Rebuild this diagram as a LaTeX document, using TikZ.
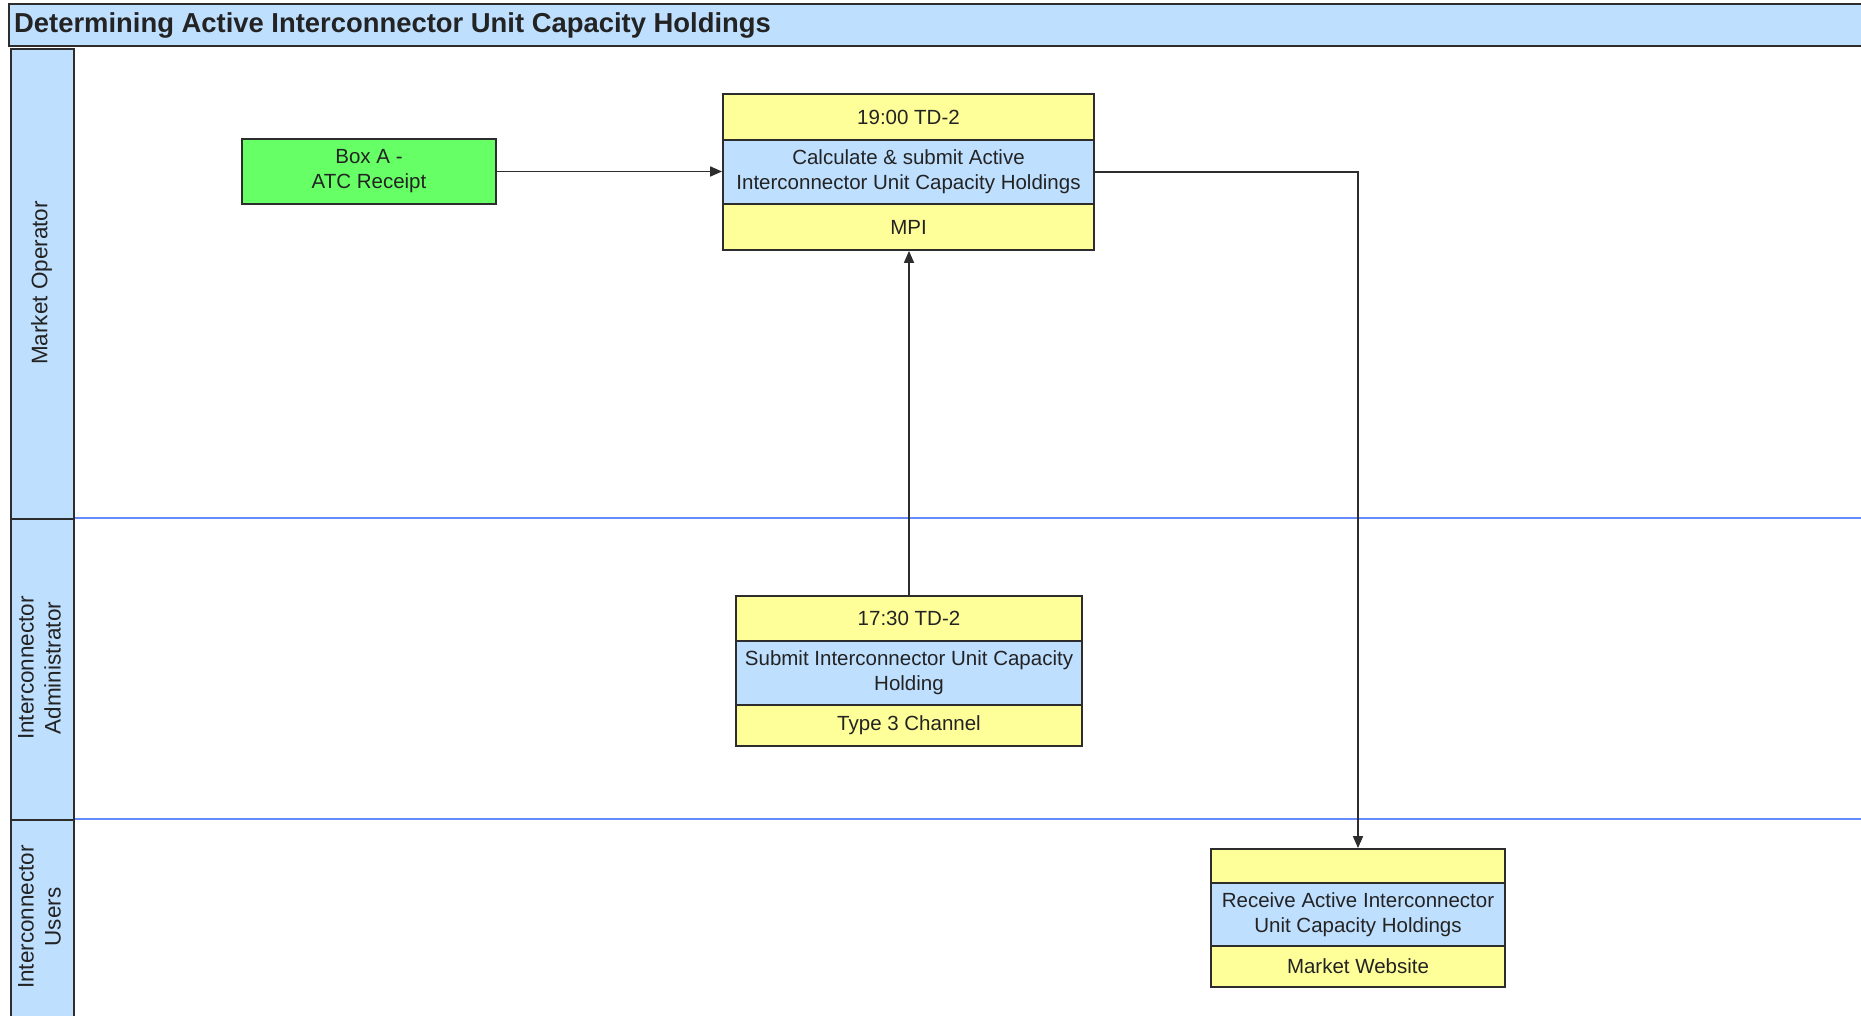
\documentclass[tikz,border=0pt]{standalone}
\usepackage{fontspec}
\setmainfont{Liberation Sans}
\usetikzlibrary{arrows.meta}
\definecolor{lblue}{RGB}{191,223,255}
\definecolor{ylw}{RGB}{255,255,153}
\definecolor{grn}{RGB}{102,255,102}
\definecolor{sepblue}{RGB}{100,140,255}
\definecolor{edge}{RGB}{45,45,45}
\definecolor{txt}{RGB}{35,35,35}
\tikzset{
  part/.style={draw=edge, line width=1.8, inner sep=0, align=center, text=txt, font=\fontsize{20.5}{25}\selectfont},
  lanebox/.style={draw=edge, line width=1.8, fill=lblue, inner sep=0, anchor=north west, minimum width=63},
  lanelabel/.style={rotate=90, align=center, text=txt, font=\fontsize{22.5}{27}\selectfont},
  sepline/.style={draw=sepblue, line width=2},
  conn/.style={draw=edge, line width=1.6, -{Triangle[length=12,width=10]}}
}
\begin{document}
\begin{tikzpicture}[x=1pt,y=-1pt]
\useasboundingbox (0,0) rectangle (1861,1016);
\fill[white] (0,0) rectangle (1861,1016);
% title bar
\draw[draw=edge, line width=1.8, fill=lblue] (9,4) rectangle (1870,46);
\node[anchor=west, inner sep=0, text=txt, font=\bfseries\fontsize{27.4}{30}\selectfont] (ttl) at (14,25) {Determining Active Interconnector Unit Capacity Holdings};
% separators
\coordinate (s1a) at (73,518); \coordinate (s1b) at (1870,518);
\coordinate (s2a) at (73,819); \coordinate (s2b) at (1870,819);
\draw[sepline] (s1a) -- (s1b);
\draw[sepline] (s2a) -- (s2b);
% lane column
\node[lanebox, minimum height=470] (l1) at (10,48) {};
\node[lanebox, minimum height=301] (l2) at (10,518) {};
\node[lanebox, minimum height=210] (l3) at (10,819) {};
\node[lanelabel] (t1) at (41.5,283) {Market Operator};
\node[lanelabel] (t2) at (39.5,668) {Interconnector\\Administrator};
\node[lanelabel] (t3) at (39.5,917) {Interconnector\\Users};
% green box
\node[part, fill=grn, minimum width=254, minimum height=65] (boxa) at (369,171.5) {Box A -\\ATC Receipt};
% box 1
\node[part, fill=ylw, minimum width=371, minimum height=46] (b1t) at (908.5,117) {19:00 TD-2};
\node[part, fill=lblue, minimum width=371, minimum height=64] (b1m) at (908.5,172) {Calculate \& submit Active\\Interconnector Unit Capacity Holdings};
\node[part, fill=ylw, minimum width=371, minimum height=46] (b1b) at (908.5,227) {MPI};
% box 2
\node[part, fill=ylw, minimum width=346, minimum height=45] (b2t) at (909,618.5) {17:30 TD-2};
\node[part, fill=lblue, minimum width=346, minimum height=64] (b2m) at (909,673) {Submit Interconnector Unit Capacity\\Holding};
\node[part, fill=ylw, minimum width=346, minimum height=41] (b2b) at (909,725.5) {Type 3 Channel};
% box 3
\node[part, fill=ylw, minimum width=294, minimum height=34] (b3t) at (1358,866) {};
\node[part, fill=lblue, minimum width=294, minimum height=63] (b3m) at (1358,914.5) {Receive Active Interconnector\\Unit Capacity Holdings};
\node[part, fill=ylw, minimum width=294, minimum height=41] (b3b) at (1358,966.5) {Market Website};
% connectors
\draw[conn] (boxa.east) -- (boxa.east -| b1m.west);
\draw[conn] (b2t.north) -- (b2t.north |- b1b.south);
\draw[conn] (b1m.east) -| (b3t.north);
\end{tikzpicture}
\end{document}
